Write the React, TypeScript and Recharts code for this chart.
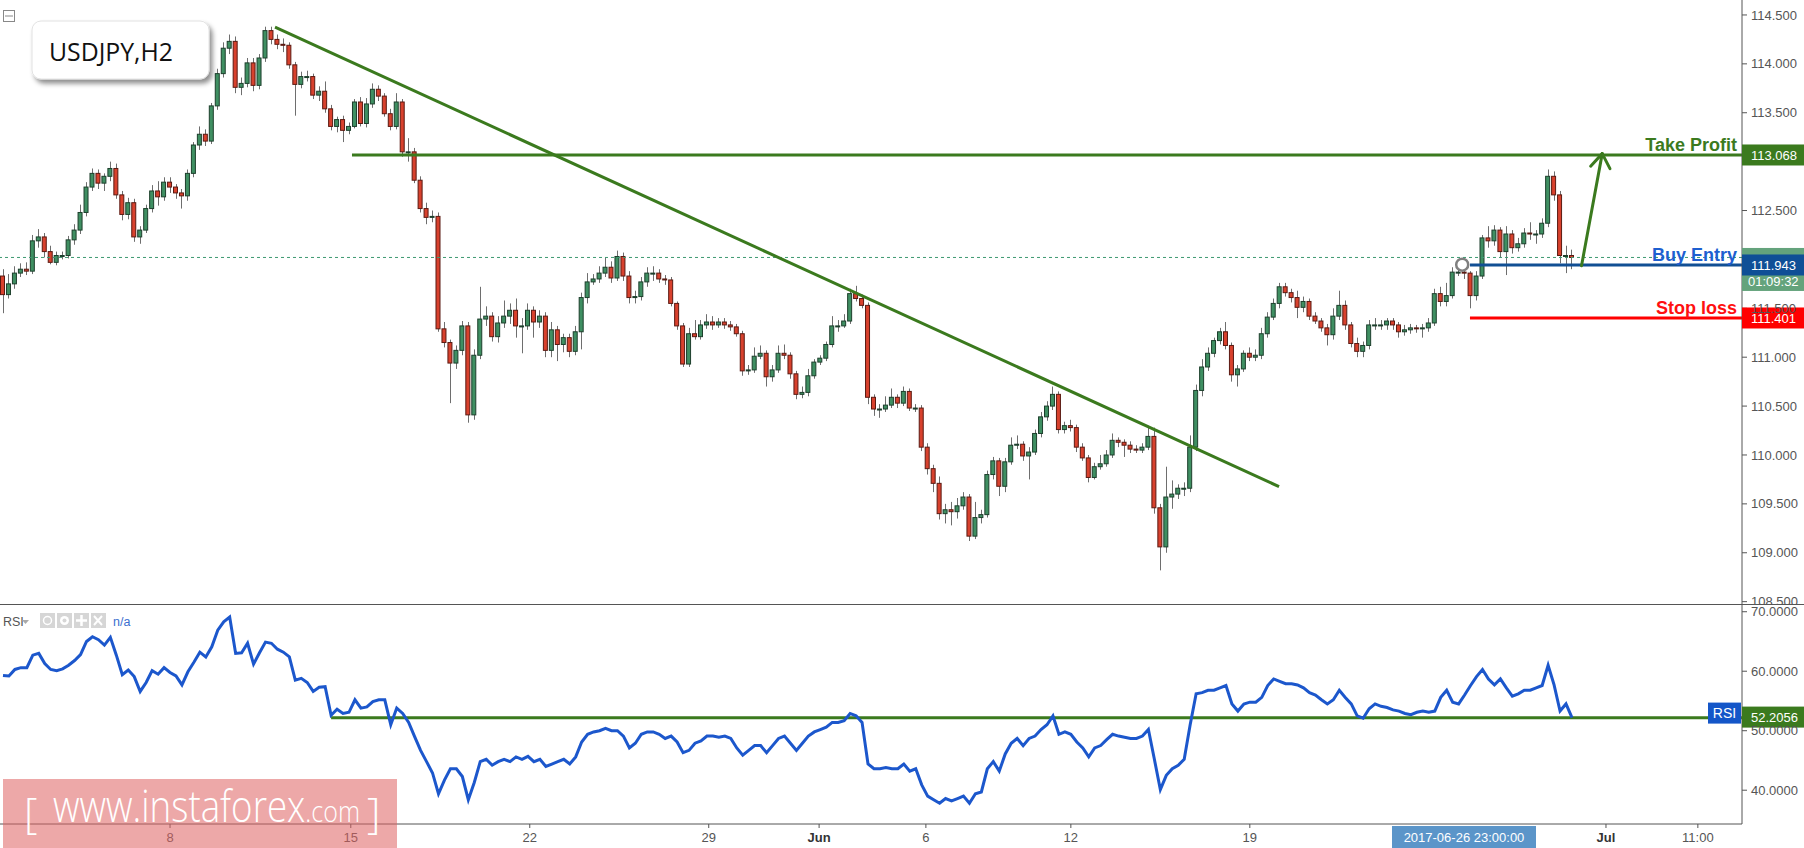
import React from 'react';
import {
  ComposedChart,
  Bar,
  Line,
  XAxis,
  YAxis,
  ReferenceLine,
  ReferenceDot,
} from 'recharts';

const FONT = "Arial, 'Liberation Sans', sans-serif";
const WIDTH = 1804;
const AXIS_W = 62;
const MAIN_H = 604;
const RSI_H = 244;

// USDJPY H2 (drawn as one candle per 4 hours), open of the first candle
const firstOpen = 111.83;

const closes = [
  111.64, 111.75, 111.86, 111.9, 111.88, 112.19, 112.23, 112.08, 111.97, 112.04,
  112.04, 112.2, 112.3, 112.48, 112.74, 112.88, 112.78, 112.85, 112.93, 112.66,
  112.46, 112.58, 112.23, 112.3, 112.52, 112.7, 112.64, 112.79, 112.74, 112.68,
  112.65, 112.88, 113.17, 113.28, 113.21, 113.57, 113.9, 114.16, 114.23, 113.76,
  113.8, 114.01, 113.78, 114.06, 114.34, 114.25, 114.2, 114.19, 113.99, 113.79,
  113.87, 113.87, 113.68, 113.72, 113.54, 113.36, 113.43, 113.32, 113.36, 113.61,
  113.39, 113.59, 113.74, 113.67, 113.49, 113.36, 113.61, 113.1, 113.1, 112.81,
  112.52, 112.43, 112.44, 111.29, 111.15, 110.94, 111.07, 111.32, 110.41, 111.02,
  111.39, 111.42, 111.21, 111.35, 111.42, 111.48, 111.32, 111.32, 111.48, 111.36,
  111.42, 111.07, 111.28, 111.13, 111.2, 111.06, 111.26, 111.61, 111.77, 111.8,
  111.86, 111.92, 111.81, 112.03, 111.83, 111.61, 111.62, 111.77, 111.86, 111.86,
  111.8, 111.79, 111.55, 111.32, 110.93, 111.24, 111.21, 111.33, 111.36, 111.33,
  111.36, 111.33, 111.31, 111.24, 110.86, 110.87, 111.01, 111.04, 110.8, 110.87,
  111.04, 111.02, 110.83, 110.62, 110.64, 110.81, 110.95, 110.99, 111.13, 111.32,
  111.32, 111.37, 111.65, 111.6, 111.53, 110.59, 110.47, 110.47, 110.51, 110.59,
  110.53, 110.65, 110.48, 110.48, 110.08, 109.86, 109.71, 109.4, 109.44, 109.42,
  109.48, 109.57, 109.17, 109.36, 109.39, 109.8, 109.94, 109.68, 109.93, 110.1,
  110.11, 109.99, 110.03, 110.22, 110.39, 110.5, 110.62, 110.26, 110.3, 110.28,
  110.08, 109.97, 109.77, 109.88, 109.91, 110.0, 110.15, 110.13, 110.1, 110.06,
  110.05, 110.08, 110.19, 109.46, 109.06, 109.57, 109.6, 109.66, 109.66, 110.08,
  110.66, 110.9, 111.04, 111.17, 111.26, 111.12, 110.82, 110.88, 111.04, 111.0,
  111.02, 111.24, 111.41, 111.55, 111.72, 111.66, 111.61, 111.51, 111.57, 111.42,
  111.37, 111.3, 111.23, 111.42, 111.53, 111.33, 111.14, 111.06, 111.12, 111.33,
  111.33, 111.33, 111.37, 111.33, 111.26, 111.28, 111.3, 111.29, 111.3, 111.35,
  111.65, 111.57, 111.63, 111.87, 111.87, 111.86, 111.63, 111.83, 112.22, 112.19,
  112.3, 112.08, 112.26, 112.12, 112.16, 112.27, 112.26, 112.26, 112.37, 112.85,
  112.66, 112.04, 112.04, 112.02,
];

const highs = [
  111.9, 111.85, 111.93, 111.96, 111.97, 112.25, 112.31, 112.27, 112.14, 112.08,
  112.08, 112.24, 112.36, 112.56, 112.79, 112.93, 112.92, 112.88, 113.0, 112.98,
  112.7, 112.63, 112.62, 112.34, 112.56, 112.76, 112.8, 112.84, 112.84, 112.77,
  112.72, 112.92, 113.2, 113.36, 113.33, 113.6, 113.95, 114.22, 114.3, 114.28,
  113.86, 114.06, 114.06, 114.1, 114.38, 114.38, 114.3, 114.26, 114.22, 114.02,
  113.92, 113.93, 113.9, 113.77, 113.82, 113.58, 113.46, 113.47, 113.4, 113.64,
  113.66, 113.65, 113.8, 113.78, 113.7, 113.54, 113.7, 113.64, 113.24, 113.14,
  112.85, 112.58, 112.5, 112.48, 111.36, 111.18, 111.12, 111.37, 111.36, 111.08,
  111.72, 111.52, 111.46, 111.42, 111.58, 111.55, 111.6, 111.4, 111.55, 111.52,
  111.48, 111.46, 111.36, 111.32, 111.24, 111.24, 111.32, 111.66, 111.86, 111.85,
  111.93, 112.02, 111.98, 112.09, 112.07, 111.88, 111.68, 111.82, 111.92, 111.93,
  111.9, 111.84, 111.82, 111.57, 111.35, 111.3, 111.38, 111.38, 111.44, 111.42,
  111.4, 111.4, 111.37, 111.34, 111.27, 110.92, 111.1, 111.12, 111.07, 110.92,
  111.12, 111.13, 111.05, 110.86, 110.7, 110.88, 110.98, 111.02, 111.16, 111.42,
  111.38, 111.44, 111.7, 111.73, 111.64, 111.56, 110.62, 110.52, 110.6, 110.68,
  110.62, 110.7, 110.68, 110.52, 110.51, 110.12, 109.9, 109.78, 109.5, 109.52,
  109.56, 109.62, 109.6, 109.52, 109.44, 109.84, 109.98, 109.97, 109.97, 110.18,
  110.2, 110.14, 110.08, 110.26, 110.44, 110.55, 110.7, 110.65, 110.34, 110.36,
  110.31, 110.12, 110.0, 109.92, 110.0, 110.05, 110.22, 110.18, 110.16, 110.14,
  110.1, 110.12, 110.3, 110.28, 109.5, 109.88, 109.74, 109.7, 109.72, 110.2,
  110.72, 110.98, 111.1, 111.2, 111.3, 111.36, 111.15, 110.92, 111.07, 111.1,
  111.08, 111.3, 111.46, 111.6, 111.76, 111.76, 111.7, 111.68, 111.62, 111.6,
  111.46, 111.4, 111.34, 111.5, 111.68, 111.58, 111.36, 111.2, 111.16, 111.38,
  111.4, 111.38, 111.4, 111.4, 111.36, 111.33, 111.34, 111.33, 111.34, 111.4,
  111.7, 111.72, 111.76, 111.92, 111.96, 111.92, 111.88, 111.88, 112.25, 112.34,
  112.35, 112.33, 112.34, 112.3, 112.22, 112.32, 112.38, 112.3, 112.42, 112.92,
  112.9, 112.7, 112.14, 112.1,
];

const lows = [
  111.45, 111.6, 111.7, 111.82, 111.84, 111.85, 112.12, 112.02, 111.95, 111.94,
  112.0, 112.01, 112.15, 112.26, 112.44, 112.7, 112.72, 112.7, 112.8, 112.62,
  112.4, 112.41, 112.18, 112.16, 112.27, 112.48, 112.55, 112.6, 112.68, 112.62,
  112.52, 112.6, 112.84, 113.12, 113.16, 113.18, 113.53, 113.86, 114.1, 113.7,
  113.68, 113.76, 113.72, 113.74, 114.02, 114.2, 114.15, 114.12, 113.95, 113.47,
  113.75, 113.82, 113.64, 113.62, 113.5, 113.32, 113.3, 113.2, 113.28, 113.34,
  113.36, 113.35, 113.55, 113.62, 113.46, 113.32, 113.33, 113.05, 113.0, 112.78,
  112.48, 112.36, 112.38, 111.26, 111.1, 110.53, 110.88, 111.02, 110.33, 110.36,
  110.98, 111.32, 111.16, 111.15, 111.3, 111.34, 111.2, 111.04, 111.28, 111.2,
  111.3, 111.0, 111.0, 110.96, 111.05, 111.0, 111.02, 111.08, 111.55, 111.74,
  111.76, 111.82, 111.76, 111.78, 111.78, 111.55, 111.55, 111.58, 111.72, 111.78,
  111.76, 111.74, 111.52, 111.28, 110.9, 110.9, 111.18, 111.18, 111.29, 111.28,
  111.3, 111.29, 111.27, 111.21, 110.81, 110.82, 110.84, 110.98, 110.7, 110.75,
  110.84, 110.98, 110.78, 110.57, 110.58, 110.6, 110.78, 110.92, 110.96, 111.1,
  111.26, 111.3, 111.34, 111.57, 111.5, 110.52, 110.4, 110.38, 110.44, 110.48,
  110.48, 110.5, 110.45, 110.44, 110.04, 109.8, 109.62, 109.34, 109.3, 109.28,
  109.35, 109.44, 109.12, 109.14, 109.3, 109.36, 109.75, 109.58, 109.62, 109.9,
  110.06, 109.94, 109.75, 110.0, 110.18, 110.35, 110.46, 110.22, 110.22, 110.24,
  110.03, 109.94, 109.72, 109.75, 109.85, 109.88, 109.97, 110.08, 109.98, 110.02,
  110.02, 110.02, 110.05, 109.4, 108.82, 109.0, 109.45, 109.55, 109.58, 109.62,
  110.04, 110.6, 110.86, 111.0, 111.13, 111.08, 110.75, 110.7, 110.85, 110.96,
  110.96, 110.98, 111.2, 111.38, 111.5, 111.62, 111.56, 111.4, 111.46, 111.38,
  111.34, 111.26, 111.12, 111.18, 111.38, 111.28, 111.1, 111.0, 111.0, 111.08,
  111.28, 111.28, 111.28, 111.28, 111.2, 111.22, 111.24, 111.25, 111.2, 111.26,
  111.32, 111.52, 111.52, 111.6, 111.83, 111.8, 111.5, 111.58, 111.8, 112.12,
  112.14, 112.02, 111.84, 112.06, 112.08, 112.12, 112.2, 112.16, 112.22, 112.33,
  112.6, 111.96, 111.86, 111.9,
];

const rsiValues = [
  59.3, 59.2, 60.3, 60.6, 60.6, 62.7, 63.0, 61.3, 60.3, 60.1,
  60.4, 61.0, 61.8, 62.8, 65.0, 65.8, 65.3, 64.4, 65.7, 62.7,
  59.4, 60.2, 59.1, 56.6, 58.1, 60.1, 59.5, 60.6, 59.8, 59.2,
  57.7, 59.9, 61.5, 63.2, 62.4, 64.1, 66.9, 68.3, 69.1, 63.0,
  63.1, 64.7, 61.2, 63.1, 64.9, 64.7, 63.7, 63.2, 62.4, 58.5,
  58.8, 58.1, 56.6, 57.3, 57.4, 52.6, 53.6, 52.9, 53.1, 55.2,
  53.8, 54.0, 54.9, 55.2, 55.2, 51.0, 53.8, 52.9, 51.4, 49.0,
  46.7, 44.8, 42.9, 39.4, 41.7, 43.6, 43.6, 42.3, 38.4, 41.3,
  44.8, 45.2, 44.2, 44.8, 45.2, 44.8, 45.6, 45.2, 45.7, 44.8,
  45.2, 44.0, 44.4, 44.8, 45.2, 44.4, 45.6, 48.1, 49.4, 49.8,
  50.0, 50.4, 50.0, 50.0, 49.1, 47.1, 47.9, 49.4, 49.8, 49.8,
  49.4, 48.7, 49.1, 48.1, 46.3, 46.7, 47.9, 48.3, 49.1, 49.1,
  48.9, 49.1, 48.7, 47.1, 45.9, 46.7, 47.5, 47.5, 46.3, 47.5,
  48.7, 49.1, 47.9, 46.7, 47.9, 49.1, 49.8, 50.2, 50.6, 51.4,
  51.4, 51.7, 52.9, 52.5, 51.4, 44.4, 43.6, 43.6, 43.8, 43.6,
  43.6, 44.4, 43.2, 43.6, 40.9, 39.0, 38.4, 37.8, 38.6, 38.2,
  38.6, 39.0, 37.8, 39.4, 39.7, 43.6, 44.8, 43.2, 46.1, 47.9,
  48.7, 47.5, 48.7, 49.1, 50.2, 51.0, 52.5, 49.4, 49.8, 49.4,
  48.1, 47.1, 45.6, 47.1, 47.5, 48.5, 49.4, 49.1, 48.9, 48.7,
  48.7, 49.1, 50.2, 45.2, 40.1, 42.5, 43.6, 44.2, 45.2, 51.0,
  56.2, 56.4, 56.8, 56.8, 57.2, 57.6, 54.5, 53.3, 54.5, 54.8,
  54.8, 55.6, 57.6, 58.7, 58.3, 57.9, 57.9, 57.7, 57.2, 56.4,
  56.0, 55.2, 54.5, 55.2, 56.8, 55.6, 54.5, 52.5, 52.1, 53.7,
  54.5, 54.1, 53.9, 53.5, 53.3, 52.9, 52.7, 53.1, 53.3, 53.1,
  53.3, 55.6, 56.8, 54.8, 54.5, 56.0, 57.6, 59.1, 60.3, 58.7,
  57.7, 58.7, 57.2, 55.8, 56.2, 56.8, 56.8, 57.2, 57.6, 61.0,
  57.7, 53.3, 54.5, 52.2,
];

const slotDomain: [number, number] = [-0.5, 291.5];
const priceDomain: [number, number] = [108.476, 114.653];
const rsiDomain: [number, number] = [34.32, 71.3];
const priceTicks = [108.5, 109, 109.5, 110, 110.5, 111, 111.5, 112.5, 113.5, 114, 114.5];
const rsiTicks = [40, 50, 60, 70];
const timeTicks = [28, 58.3, 88.3, 118.3, 136.8, 154.7, 179, 209, 268.7, 284.1];
const timeLabels = ['8', '15', '22', '29', 'Jun', '6', '12', '19', 'Jul', '11:00'];

// trade levels and drawings
const takeProfit = 113.068;
const buyEntry = 111.943;
const stopLoss = 111.401;
const lastPrice = 112.02;
const rsiLast = 52.2056;
const rsiLevel = 52.2;
const tpStart = 58.5;
const levelStart = 245.9;
const entryPoint = { x: 244.6, y: 111.946 };
const trendLine = [{ x: 45.6, y: 114.376 }, { x: 213.9, y: 109.676 }];
const arrowShaft = [{ x: 264.6, y: 111.935 }, { x: 268.07, y: 113.082 }];
const arrowLeft = [{ x: 266.13, y: 112.953 }, { x: 268.07, y: 113.082 }];
const arrowRight = [{ x: 269.37, y: 112.929 }, { x: 268.07, y: 113.082 }];
const rsiLevelStart = 55;
const cursorSlot = 244.9;

const candles = closes.map((c, i) => ({
  k: i,
  open: i === 0 ? firstOpen : closes[i - 1],
  close: c,
  high: highs[i],
  low: lows[i],
  range: [lows[i], highs[i]],
}));

const rsiData = rsiValues.map((r, i) => ({ k: i, rsi: r }));

const GREEN = '#3b7a1e';
const slotEnd = slotDomain[1];

const Candle = (props: any) => {
  const { x, y, width, height, payload } = props;
  if (!payload || payload.high == null) return null;
  const { open, close, high, low } = payload;
  const top = Math.min(y, y + height);
  const h = Math.abs(height);
  const unit = h / Math.max(high - low, 1e-6);
  const up = close >= open;
  const bodyTop = top + (high - Math.max(open, close)) * unit;
  const bodyH = Math.max(Math.abs(close - open) * unit, 1);
  const cx = Math.round(x + width / 2) + 0.5;
  return (
    <g>
      <line x1={cx} x2={cx} y1={top} y2={top + h} stroke="#6e6e6e" strokeWidth={1} />
      <rect
        x={x + 0.5}
        y={bodyTop}
        width={width - 1}
        height={bodyH}
        fill={up ? '#3f8f62' : '#d8412d'}
        stroke={up ? '#1d3f2c' : '#5a1a12'}
        strokeWidth={1}
      />
    </g>
  );
};

const AxisTag = ({ cx, cy, text, fill, up = 10.5, down = 10.5 }: any) => (
  <g>
    <rect x={cx} y={cy - up} width={AXIS_W} height={up + down} fill={fill} />
    <text x={cx + 9} y={cy} dy="0.36em" fill="#fff" fontSize={13} fontFamily={FONT}>
      {text}
    </text>
  </g>
);

const LevelText = ({ cx, cy, text, color }: any) => (
  <text
    x={cx - 5}
    y={cy - 4}
    textAnchor="end"
    fill={color}
    fontSize={18}
    fontWeight={700}
    fontFamily={FONT}
  >
    {text}
  </text>
);

const TimeTick = (props: any) => {
  const { x, y, payload } = props;
  const idx = timeTicks.indexOf(payload.value);
  const label = idx >= 0 ? timeLabels[idx] : '';
  const month = label === 'Jun' || label === 'Jul';
  return (
    <text
      x={x}
      y={y}
      dy={12}
      textAnchor="middle"
      fontSize={13}
      fontFamily={FONT}
      fill={month ? '#333' : '#555'}
      fontWeight={month ? 700 : 400}
    >
      {label}
    </text>
  );
};

const App = () => {
  return (
    <div style={{ position: 'absolute', left: 0, top: 0, width: WIDTH, height: 848, background: '#fff' }}>
      {/* price pane */}
      <div style={{ position: 'absolute', left: 0, top: 0 }}>
        <ComposedChart width={WIDTH} height={MAIN_H} data={candles} margin={{ top: 0, right: 0, bottom: 0, left: 0 }}>
          <XAxis type="number" dataKey="k" domain={slotDomain} hide allowDataOverflow />
          <YAxis
            orientation="right"
            width={AXIS_W}
            domain={priceDomain}
            allowDataOverflow
            ticks={priceTicks}
            interval={0}
            tickFormatter={(v: number) => v.toFixed(3)}
            tick={{ fill: '#555', fontSize: 13, fontFamily: FONT }}
            tickSize={5}
            tickMargin={4}
            tickLine={{ stroke: '#555' }}
            axisLine={{ stroke: '#555' }}
          />
          <Bar dataKey="range" barSize={5} shape={(p: any) => <Candle {...p} />} isAnimationActive={false} />
          <ReferenceLine y={lastPrice} stroke="#3d9970" strokeDasharray="3 3" strokeWidth={1} />
          <ReferenceLine segment={trendLine} stroke={GREEN} strokeWidth={3} ifOverflow="visible" />
          <ReferenceLine segment={[{ x: tpStart, y: takeProfit }, { x: slotEnd, y: takeProfit }]} stroke={GREEN} strokeWidth={3} />
          <ReferenceLine segment={[{ x: levelStart, y: buyEntry }, { x: slotEnd, y: buyEntry }]} stroke="#114f94" strokeWidth={3} />
          <ReferenceLine segment={[{ x: levelStart, y: stopLoss }, { x: slotEnd, y: stopLoss }]} stroke="#ff0000" strokeWidth={3} />
          <ReferenceLine segment={arrowShaft} stroke={GREEN} strokeWidth={3} strokeLinecap="round" />
          <ReferenceLine segment={arrowLeft} stroke={GREEN} strokeWidth={3} strokeLinecap="round" />
          <ReferenceLine segment={arrowRight} stroke={GREEN} strokeWidth={3} strokeLinecap="round" />
          <ReferenceDot
            x={entryPoint.x}
            y={entryPoint.y}
            r={6}
            fill="#fff"
            stroke="#7f7f7f"
            strokeWidth={2.5}
            ifOverflow="visible"
          />
          <ReferenceDot
            x={slotEnd}
            y={lastPrice}
            ifOverflow="visible"
            shape={(p: any) => (
              <g>
                <rect x={p.cx} y={p.cy - 9.5} width={AXIS_W} height={43} fill="#64a37c" />
                <text x={p.cx + 6} y={p.cy + 29} fill="#fff" fontSize={13} fontFamily={FONT}>01:09:32</text>
              </g>
            )}
          />
          <ReferenceDot x={slotEnd} y={takeProfit} ifOverflow="visible" shape={(p: any) => (
            <g>
              <LevelText cx={p.cx} cy={p.cy} text="Take Profit" color={GREEN} />
              <AxisTag cx={p.cx} cy={p.cy} text={takeProfit.toFixed(3)} fill={GREEN} />
            </g>
          )} />
          <ReferenceDot x={slotEnd} y={buyEntry} ifOverflow="visible" shape={(p: any) => (
            <g>
              <LevelText cx={p.cx} cy={p.cy} text="Buy Entry" color="#1d5fd0" />
              <AxisTag cx={p.cx} cy={p.cy} text={buyEntry.toFixed(3)} fill="#0f4f96" />
            </g>
          )} />
          <ReferenceDot x={slotEnd} y={stopLoss} ifOverflow="visible" shape={(p: any) => (
            <g>
              <LevelText cx={p.cx} cy={p.cy} text="Stop loss" color="#ff1010" />
              <AxisTag cx={p.cx} cy={p.cy} text={stopLoss.toFixed(3)} fill="#ff0000" />
            </g>
          )} />
        </ComposedChart>
      </div>

      {/* RSI pane with time axis */}
      <div style={{ position: 'absolute', left: 0, top: MAIN_H }}>
        <ComposedChart width={WIDTH} height={RSI_H} data={rsiData} margin={{ top: 0, right: 0, bottom: 0, left: 0 }}>
          <XAxis
            type="number"
            dataKey="k"
            domain={slotDomain}
            allowDataOverflow
            ticks={timeTicks}
            interval={0}
            tick={<TimeTick />}
            tickSize={4}
            tickLine={{ stroke: '#555' }}
            axisLine={{ stroke: '#555' }}
            height={24}
          />
          <YAxis
            orientation="right"
            width={AXIS_W}
            domain={rsiDomain}
            allowDataOverflow
            ticks={rsiTicks}
            interval={0}
            tickFormatter={(v: number) => v.toFixed(4)}
            tick={{ fill: '#555', fontSize: 13, fontFamily: FONT }}
            tickSize={5}
            tickMargin={4}
            tickLine={{ stroke: '#555' }}
            axisLine={{ stroke: '#555' }}
          />
          <ReferenceLine segment={[{ x: rsiLevelStart, y: rsiLevel }, { x: slotEnd, y: rsiLevel }]} stroke={GREEN} strokeWidth={3} />
          <Line type="linear" dataKey="rsi" stroke="#1c57cc" strokeWidth={3} dot={false} isAnimationActive={false} />
          <ReferenceDot x={slotEnd} y={rsiLast} ifOverflow="visible" shape={(p: any) => (
            <g>
              <rect x={p.cx - 34} y={p.cy - 15} width={33} height={21} fill="#1456c8" />
              <text x={p.cx - 17.5} y={p.cy - 4.5} dy="0.36em" textAnchor="middle" fill="#fff" fontSize={14} fontFamily={FONT}>RSI</text>
              <AxisTag cx={p.cx} cy={p.cy} text={rsiLast.toFixed(4)} fill={GREEN} up={11} down={10} />
            </g>
          )} />
          <ReferenceDot x={cursorSlot} y={rsiDomain[0]} ifOverflow="visible" shape={(p: any) => (
            <g>
              <rect x={p.cx - 72} y={p.cy + 2} width={144} height={22} fill="#5b95c9" />
              <text x={p.cx} y={p.cy + 18} textAnchor="middle" fill="#fff" fontSize={13} fontFamily={FONT}>2017-06-26 23:00:00</text>
            </g>
          )} />
        </ComposedChart>
      </div>

      {/* overlay: pane separator, legends, watermark */}
      <svg width={WIDTH} height={848} style={{ position: 'absolute', left: 0, top: 0, pointerEvents: 'none' }}>
        <defs>
          <filter id="legendShadow" x="-10%" y="-20%" width="130%" height="160%">
            <feDropShadow dx="3" dy="4" stdDeviation="2.5" floodColor="#000" floodOpacity="0.45" />
          </filter>
        </defs>
        <line x1={0} x2={WIDTH} y1={MAIN_H + 0.5} y2={MAIN_H + 0.5} stroke="#555" strokeWidth={1} />

        {/* minimise icon */}
        <rect x={3.5} y={10.5} width={11} height={11} fill="#fff" stroke="#888" strokeWidth={1} />
        <line x1={5} x2={13} y1={16} y2={16} stroke="#888" strokeWidth={1} />

        {/* symbol legend */}
        <rect x={32} y={21} width={177} height={58} rx={9} fill="#fff" stroke="#e2e2e2" filter="url(#legendShadow)" />
        <text x={49} y={61} fontSize={26} fontFamily="'Open Sans', sans-serif" fill="#111" textLength={124} lengthAdjust="spacingAndGlyphs">
          USDJPY,H2
        </text>

        {/* RSI legend */}
        <text x={3} y={626} fontSize={12.5} fontFamily={FONT} fill="#555">RSI</text>
        <path d="M22 620 L29 620 L25.5 624 Z" fill="#aaa" />
        {[40, 57, 74, 91].map((bx) => (
          <rect key={bx} x={bx} y={613} width={15} height={15} fill="#d6d6d6" />
        ))}
        <circle cx={47.5} cy={620.5} r={4} fill="none" stroke="#fff" strokeWidth={1.5} />
        <circle cx={64.5} cy={620.5} r={4.5} fill="#fff" />
        <circle cx={64.5} cy={620.5} r={2} fill="#d6d6d6" />
        <path d="M81.5 615 V626 M76 620.5 H87" stroke="#fff" strokeWidth={2.5} />
        <path d="M94 616 L102 625 M102 616 L94 625" stroke="#fff" strokeWidth={2} />
        <text x={113} y={626} fontSize={12.5} fontFamily={FONT} fill="#3b6fd0">n/a</text>

        {/* watermark */}
        <rect x={3} y={779} width={394} height={69} fill="rgb(222,96,96)" fillOpacity={0.55} />
        <text x={24} y={828} fontSize={42} fontFamily="'Open Sans', sans-serif" fontWeight={300} fill="#fff">[</text>
        <text x={53} y={822} fontFamily="'Open Sans', sans-serif" fontWeight={300} fill="#fff" textLength={307} lengthAdjust="spacingAndGlyphs">
          <tspan fontSize={44}>www.instaforex</tspan>
          <tspan fontSize={30}>.com</tspan>
        </text>
        <text x={367} y={828} fontSize={42} fontFamily="'Open Sans', sans-serif" fontWeight={300} fill="#fff">]</text>
      </svg>
    </div>
  );
};

export default App;
